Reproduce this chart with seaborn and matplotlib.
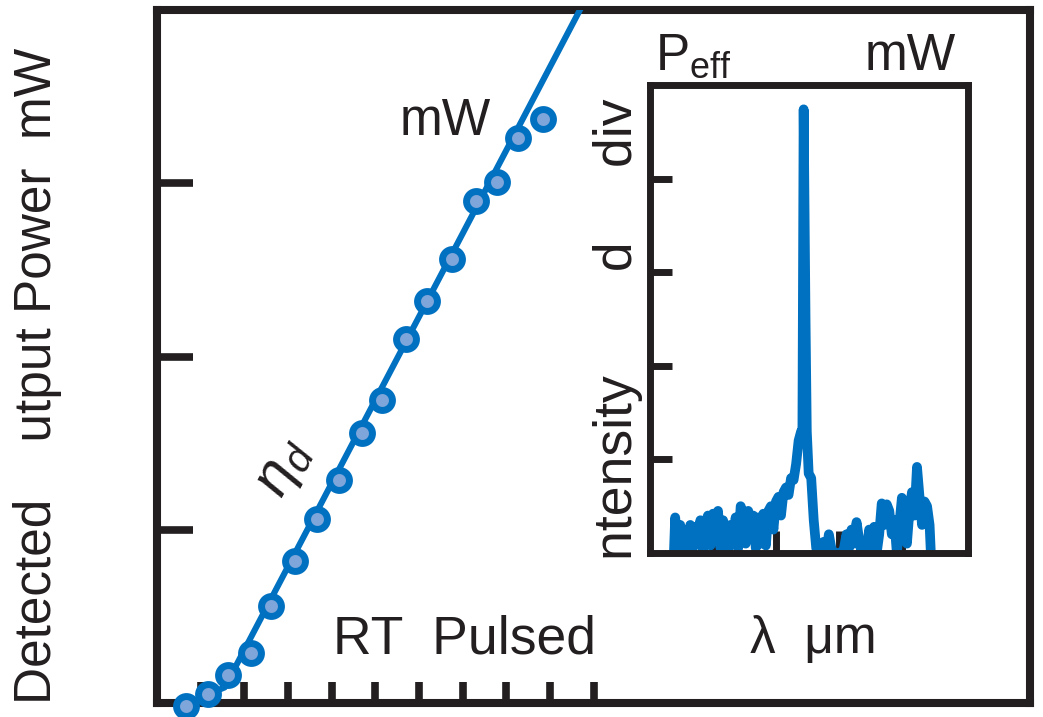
import numpy as np
import pandas as pd
import matplotlib
matplotlib.use("Agg")
import matplotlib.pyplot as plt
import seaborn as sns

# ---------------- data ----------------
# main L-I data (current in arbitrary units, power in mW-units)
current = [0.66, 1.17, 1.63, 2.15, 2.61, 3.16, 3.67, 4.17, 4.70, 5.16,
           5.70, 6.18, 6.76, 7.31, 7.79, 8.27, 8.84]
power = [-0.02, 0.05, 0.16, 0.29, 0.56, 0.82, 1.06, 1.29, 1.56, 1.75,
         2.10, 2.32, 2.56, 2.90, 3.01, 3.26, 3.37]
# linear fit line (with sub-threshold part)
fit_current = [0.66, 1.17, 1.55, 10.0]
fit_power = [-0.02, 0.05, 0.09, 4.15]

# inset spectrum
wavelength = [0.38, 0.40, 0.44, 0.48, 0.52, 0.56, 0.60, 0.64, 0.68, 0.72, 0.76,
              0.80, 0.84, 0.88, 0.92, 0.96, 1.00, 1.04, 1.08, 1.12, 1.16,
              1.20, 1.24, 1.28, 1.32, 1.36, 1.40, 1.44, 1.48, 1.52, 1.56,
              1.60, 1.64, 1.68, 1.72, 1.76, 1.80, 1.84, 1.88, 1.92, 1.96,
              2.00, 2.04, 2.08, 2.12, 2.16, 2.20, 2.24, 2.28, 2.32, 2.36,
              2.40, 2.42, 2.44, 2.47, 2.49, 2.52, 2.56, 2.60, 2.64, 2.68,
              2.72, 2.76, 2.80, 2.84, 2.88, 2.92, 2.96, 3.00, 3.04, 3.08,
              3.12, 3.16, 3.20, 3.24, 3.28, 3.32, 3.36, 3.40, 3.44, 3.48,
              3.52, 3.56, 3.60, 3.64, 3.68, 3.72, 3.76, 3.80, 3.84, 3.88,
              3.92, 3.96, 4.00, 4.04, 4.08, 4.12, 4.16, 4.20, 4.24, 4.28,
              4.32, 4.36, 4.40, 4.44, 4.46]
intensity = [0.00, 0.38, 0.05, 0.30, 0.02, 0.18, 0.00, 0.30, 0.05, 0.28, 0.10,
             0.35, 0.02, 0.32, 0.40, 0.08, 0.42, 0.20, 0.45, 0.05, 0.35,
             0.25, 0.00, 0.30, 0.12, 0.38, 0.05, 0.50, 0.42, 0.10, 0.45,
             0.30, 0.40, 0.05, 0.38, 0.10, 0.42, 0.08, 0.45, 0.50, 0.25,
             0.55, 0.60, 0.40, 0.65, 0.70, 0.62, 0.80, 0.78, 0.95, 1.20,
             1.30, 1.25, 4.74, 2.50, 1.30, 0.85, 0.80, 0.35, 0.05, 0.00,
             0.00, 0.12, 0.00, 0.20, 0.05, 0.00, 0.00, 0.00, 0.00, 0.05,
             0.20, 0.05, 0.25, 0.10, 0.33, 0.15, 0.00, 0.00, 0.00, 0.25,
             0.10, 0.28, 0.00, 0.20, 0.53, 0.30, 0.52, 0.45, 0.20, 0.35,
             0.00, 0.30, 0.59, 0.30, 0.10, 0.45, 0.65, 0.40, 0.92, 0.60,
             0.30, 0.55, 0.50, 0.30, 0.00]

main_xticks = [1, 2, 3, 4, 5, 6, 7, 8, 9, 10]
main_yticks = [1, 2, 3]
inset_xticks = [1, 2, 3, 4]
inset_yticks = [1, 2, 3, 4]

# ---------------- style ----------------
sns.set_theme(style="white")
plt.rcParams['font.family'] = ['Liberation Sans', 'DejaVu Sans']
plt.rcParams['mathtext.fontset'] = 'custom'
plt.rcParams['mathtext.rm'] = 'Liberation Sans'
plt.rcParams['mathtext.it'] = 'Liberation Sans:italic'

BLUE = "#0070C0"
FACE = "#7FA6DA"
INK = "#231F20"

W, H = 1043, 717
fig = plt.figure(figsize=(W / 100, H / 100), dpi=100)

def fx(px):
    return px / W

def fy(py):
    return 1 - py / H

ax = fig.add_axes([fx(157), fy(703), fx(1030) - fx(157), fy(10) - fy(703)])
ax.set_xlim(0, 20)
ax.set_ylim(0, 4)

df_fit = pd.DataFrame({"I": fit_current, "P": fit_power})
df_pts = pd.DataFrame({"I": current, "P": power})
sns.lineplot(data=df_fit, x="I", y="P", ax=ax, color=BLUE, lw=4.4,
             sort=False, estimator=None, zorder=3)
sns.scatterplot(data=df_pts, x="I", y="P", ax=ax, s=205, color=FACE,
                edgecolor=BLUE, linewidth=5.0, zorder=5, clip_on=False)

for sp in ax.spines.values():
    sp.set_linewidth(5.8)
    sp.set_color(INK)
    sp.set_visible(True)
ax.set_xticks(main_xticks)
ax.set_yticks(main_yticks)
ax.tick_params(axis='x', direction='in', length=15, width=5.5, color=INK,
               labelbottom=False, bottom=True)
ax.tick_params(axis='y', direction='in', length=26, width=5.5, color=INK,
               labelleft=False, left=True)
ax.set_xlabel("")
ax.set_ylabel("")

# ---------------- inset ----------------
axi = fig.add_axes([fx(650), fy(553), fx(968) - fx(650), fy(85) - fy(553)])
axi.set_xlim(0, 5.05)
axi.set_ylim(0, 5)
df_spec = pd.DataFrame({"wl": wavelength, "I": intensity})
sns.lineplot(data=df_spec, x="wl", y="I", ax=axi, color=BLUE, lw=7.0,
             sort=False, estimator=None, zorder=2)
for sp in axi.spines.values():
    sp.set_linewidth(5.0)
    sp.set_color(INK)
    sp.set_visible(True)
    sp.set_zorder(3)
axi.set_xticks(inset_xticks)
axi.set_yticks(inset_yticks)
axi.tick_params(axis='both', direction='in', length=16, width=5.0, color=INK,
                labelbottom=False, labelleft=False, bottom=True, left=True)
axi.set_xlabel("")
axi.set_ylabel("")

# ---------------- texts ----------------
FS = 37
fig.text(fx(38), fy(376), "Detected    utput Power  mW", rotation=90,
         ha='center', va='center', fontsize=FS, color=INK)
fig.text(fx(333), fy(653), "RT  Pulsed", ha='left', va='baseline',
         fontsize=38.5, color=INK)
fig.text(fx(400), fy(135), "mW", ha='left', va='baseline',
         fontsize=FS, color=INK)
fig.text(fx(284), fy(468), r"$\eta_d$", rotation=62, ha='center', va='center',
         fontsize=42, color=INK)
fig.text(fx(655), fy(70), r"P$_{\mathregular{eff}}$", ha='left', va='baseline',
         fontsize=FS, color=INK)
fig.text(fx(865), fy(70), "mW", ha='left', va='baseline',
         fontsize=FS, color=INK)
fig.text(fx(618), fy(329), "ntensity       d     div", rotation=90,
         ha='center', va='center', fontsize=38.5, color=INK)
fig.text(fx(750), fy(653), "λ  μm", ha='left', va='baseline',
         fontsize=FS, color=INK)

fig.savefig("out.png", dpi=100)
